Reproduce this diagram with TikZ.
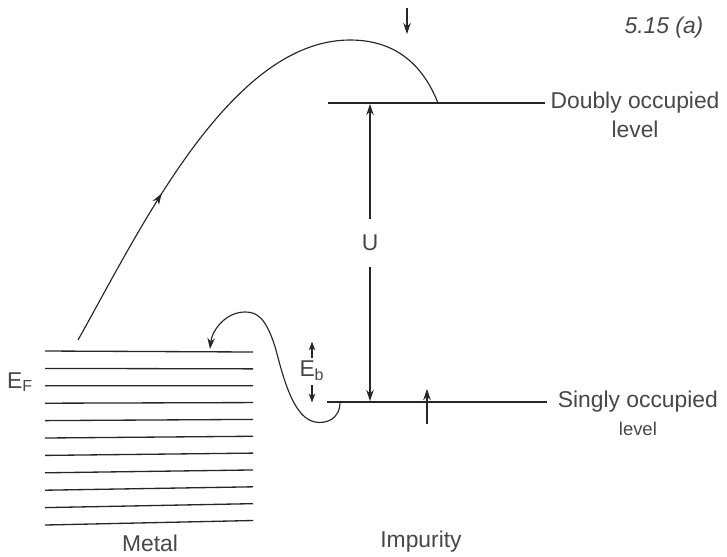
\documentclass[tikz,border=0pt]{standalone}
\usepackage{fontspec}
\setmainfont{Liberation Sans}
\usetikzlibrary{positioning, arrows.meta, decorations.markings}
\colorlet{cInk}{black!85}
\colorlet{cTxt}{black!72}

\begin{document}
\begin{tikzpicture}[
  x=0.02cm, y=-0.02cm,
  levelline/.style={line width=0.8pt, draw=cInk},
  bandline/.style={line width=0.75pt, draw=cInk},
  lbl/.style={font=\fontsize{13}{15}\selectfont, text=cTxt, inner sep=0pt},
  sublbl/.style={font=\fontsize{10.5}{12}\selectfont, text=cTxt, inner sep=0pt},
  spin/.style={-{Stealth[length=2.2mm,width=1.5mm]}, line width=0.6pt, draw=cInk},
  orbit/.style={line width=0.65pt, draw=cInk},
]

\useasboundingbox (0,0) rectangle (727,556);

% =========================================================================
% Metal: a stack of eleven filled levels up to E_F
% =========================================================================
\foreach \i in {0,...,10}{
  \draw[bandline] (45,351+17.4*\i) -- (253,352+17.4*\i-0.55*\i);
}
\node[lbl] (EF) at (20,382) {E\textsubscript{F}};
\node[lbl] (metal) at (150,543) {Metal};

% =========================================================================
% Impurity: doubly and singly occupied levels, split by U
% =========================================================================
\coordinate (dL) at (328,103); \coordinate (dR) at (545,103);
\coordinate (sL) at (327,402); \coordinate (sR) at (547,402);
\draw[levelline] (dL) -- (dR);
\draw[levelline] (sL) -- (sR);

\node[lbl, anchor=west] (dtxt) at ([xshift=3pt]dR) {Doubly occupied};
\node[lbl, below=4pt of dtxt] (dsub) {level};
\node[lbl, anchor=west] (stxt) at ([xshift=6pt]sR) {Singly occupied};
\node[sublbl, below=5pt of stxt] (ssub) {level};
\node[lbl] (impurity) at (421,542) {Impurity};
\node[font=\fontsize{13}{15}\selectfont\itshape, text=cTxt, inner sep=0pt]
  (title) at (664,28) {5.15 (a)};

% the Coulomb gap U
\coordinate (uTop) at (370,104); \coordinate (uBot) at (370,401);
\node[lbl, inner sep=9pt] (U) at (370,243) {U};
\draw[spin] (U.north) -- (uTop);
\draw[spin] (U.south) -- (uBot);

% spins on the two levels
\coordinate (dnA) at (407,8);   \coordinate (dnB) at (407,34);
\coordinate (upA) at (427,424); \coordinate (upB) at (427,389);
\draw[spin] (dnA) -- (dnB);
\draw[spin] (upA) -- (upB);

% binding energy E_b
\node[lbl] (Eb) at (312,371) {E\textsubscript{b}};
\draw[-{Stealth[length=1.8mm,width=1.3mm]}, line width=0.6pt, draw=cInk]
  (Eb.north) ++(0,-3) -- ++(0,-16);
\draw[-{Stealth[length=1.8mm,width=1.3mm]}, line width=0.6pt, draw=cInk]
  (Eb.south) ++(0,4) -- ++(0,17);

% =========================================================================
% Transitions: from the metal up to the doubly occupied level, and the
% singly occupied electron dropping back into the metal
% =========================================================================
\coordinate (fromM) at (78,340);
\coordinate (top)   at (350,40);
\coordinate (toD)   at (438,103);
\draw[orbit, postaction={decorate}, decoration={markings,
      mark=at position 0.4 with {\arrow{Stealth[length=2.2mm,width=1.5mm]}}}]
  (fromM) .. controls (140,230) and (230,40) .. (top);
\draw[orbit] (top) .. controls (400,40) and (425,70) .. (toD);

\coordinate (fromS) at (340,402);
\coordinate (toM)   at (210,349);
\draw[orbit, -{Stealth[length=2.2mm,width=1.5mm]}]
  (fromS) .. controls (340,420) and (325,424) .. (315,422)
          .. controls (295,418) and (285,385) .. (276,350)
          .. controls (266,316) and (256,312) .. (245,312)
          .. controls (226,312) and (212,330) .. (toM);

\end{tikzpicture}
\end{document}
